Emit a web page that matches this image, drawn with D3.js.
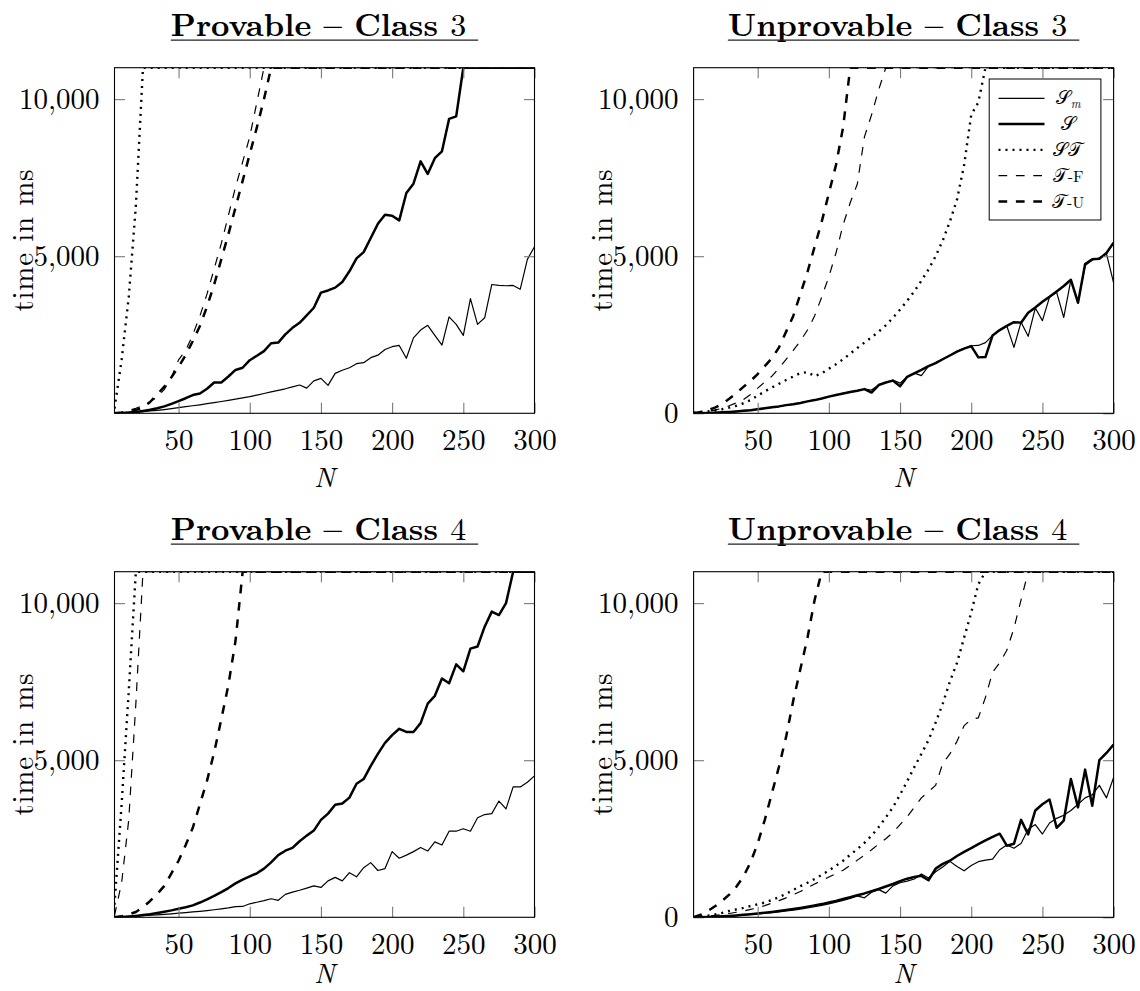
<!DOCTYPE html>
<html>
<head>
<meta charset="utf-8">
<script src="https://cdn.jsdelivr.net/npm/d3@7"></script>
<style>
  body { margin: 0; background: #fff; }
  svg { display: block; }
</style>
</head>
<body>
<svg id="chart" width="1140" height="991"></svg>
<script>
// ---- data ----
const T = 11000; // timeout, drawn on the upper border

const N = [5, 10, 15, 20, 25, 30, 35, 40, 45, 50,
  55, 60, 65, 70, 75, 80, 85, 90, 95, 100,
  105, 110, 115, 120, 125, 130, 135, 140, 145, 150,
  155, 160, 165, 170, 175, 180, 185, 190, 195, 200,
  205, 210, 215, 220, 225, 230, 235, 240, 245, 250,
  255, 260, 265, 270, 275, 280, 285, 290, 295, 300];

const xTicks = [50, 100, 150, 200, 250, 300];
const yTicksLeft = [5000, 10000];
const yTicksRight = [0, 5000, 10000];

const titleWords = ["Provable", "Unprovable", "Provable", "Unprovable"];
const titleClass = ["3", "3", "4", "4"];

// legend labels: [calligraphic part, subscript, upright suffix]
const seriesLabels = [["𝒮", "m", ""], ["𝒮", "", ""], ["𝒮𝒯", "", ""], ["𝒯", "", "-F"], ["𝒯", "", "-U"]];

// Provable - Class 3
const p3Sm = [0, 10, 20, 35, 55, 75, 95, 120, 150, 180,
  210, 240, 270, 305, 340, 375, 410, 450, 490, 530,
  580, 630, 680, 730, 780, 840, 900, 800, 1030, 1110,
  890, 1270, 1370, 1450, 1580, 1610, 1770, 1850, 2030, 2120,
  2160, 1750, 2400, 2650, 2800, 2480, 2170, 3070, 2830, 2480,
  3650, 2830, 3040, 4100, 4070, 4060, 4070, 3950, 4900, 5300];
const p3S = [0, 10, 25, 45, 75, 110, 160, 220, 300, 390,
  480, 580, 630, 780, 980, 980, 1170, 1380, 1450, 1690,
  1830, 1980, 2230, 2250, 2510, 2720, 2880, 3120, 3360, 3840,
  3910, 4000, 4180, 4520, 4930, 5130, 5580, 6030, 6320, 6290,
  6140, 7010, 7310, 8020, 7620, 8120, 8340, 9370, 9450, T,
  T, T, T, T, T, T, T, T, T, T];
const p3ST = [150, 1700, 3700, 6600, T, T, T, T, T, T,
  T, T, T, T, T, T, T, T, T, T,
  T, T, T, T, T, T, T, T, T, T,
  T, T, T, T, T, T, T, T, T, T,
  T, T, T, T, T, T, T, T, T, T,
  T, T, T, T, T, T, T, T, T, T];
const p3TF = [10, 40, 90, 160, 250, 370, 520, 760, 1150, 1700,
  2000, 2500, 3100, 3800, 4600, 5400, 6300, 7200, 8000, 8800,
  9900, T, T, T, T, T, T, T, T, T,
  T, T, T, T, T, T, T, T, T, T,
  T, T, T, T, T, T, T, T, T, T,
  T, T, T, T, T, T, T, T, T, T];
const p3TU = [0, 20, 60, 110, 180, 360, 600, 850, 1150, 1480,
  1850, 2300, 2780, 3400, 4100, 4900, 5700, 6550, 7400, 8250,
  9100, 10000, T, T, T, T, T, T, T, T,
  T, T, T, T, T, T, T, T, T, T,
  T, T, T, T, T, T, T, T, T, T,
  T, T, T, T, T, T, T, T, T, T];

// Unprovable - Class 3
const u3Sm = [0, 5, 10, 20, 30, 45, 60, 80, 100, 130,
  160, 190, 220, 260, 290, 330, 380, 420, 470, 530,
  580, 630, 680, 720, 770, 740, 900, 980, 1060, 960,
  1160, 1280, 1200, 1500, 1610, 1730, 1850, 1970, 2070, 2150,
  2160, 2250, 2480, 2650, 2780, 2100, 2900, 2450, 3350, 2950,
  3700, 3850, 3050, 4250, 3520, 4700, 4880, 4950, 5080, 4150];
const u3S = [0, 5, 10, 20, 30, 45, 60, 80, 100, 130,
  160, 190, 220, 260, 290, 330, 380, 420, 470, 530,
  580, 630, 680, 720, 770, 660, 900, 980, 1040, 860,
  1160, 1270, 1380, 1500, 1600, 1720, 1840, 1960, 2060, 2140,
  1780, 1790, 2480, 2650, 2780, 2900, 2880, 3200, 3370, 3550,
  3710, 3880, 4050, 4250, 3520, 4750, 4900, 4920, 5100, 5430];
const u3ST = [20, 40, 60, 90, 130, 180, 240, 320, 420, 560,
  700, 820, 940, 1060, 1170, 1280, 1310, 1180, 1270, 1420,
  1560, 1720, 1900, 2080, 2250, 2420, 2600, 2800, 3040, 3300,
  3580, 3880, 4220, 4580, 5000, 5500, 6100, 6800, 7900, 9500,
  9900, T, T, T, T, T, T, T, T, T,
  T, T, T, T, T, T, T, T, T, T];
const u3TF = [10, 30, 60, 100, 160, 240, 330, 440, 600, 800,
  1000, 1180, 1440, 1720, 2000, 2300, 2650, 3100, 3700, 4350,
  5100, 6000, 6700, 7300, 8800, 9500, 10300, T, T, T,
  T, T, T, T, T, T, T, T, T, T,
  T, T, T, T, T, T, T, T, T, T,
  T, T, T, T, T, T, T, T, T, T];
const u3TU = [0, 40, 100, 180, 300, 460, 640, 840, 1030, 1250,
  1500, 1750, 2100, 2600, 3100, 3800, 4500, 5300, 6100, 7000,
  7900, 9100, T, T, T, T, T, T, T, T,
  T, T, T, T, T, T, T, T, T, T,
  T, T, T, T, T, T, T, T, T, T,
  T, T, T, T, T, T, T, T, T, T];

// Provable - Class 4
const p4Sm = [0, 10, 20, 35, 50, 65, 80, 95, 110, 130,
  150, 170, 190, 215, 240, 270, 300, 340, 345, 430,
  480, 530, 590, 540, 730, 800, 860, 930, 1000, 950,
  1160, 1270, 1160, 1420, 1290, 1580, 1740, 1490, 1550, 2090,
  1880, 1980, 2090, 2220, 2110, 2400, 2300, 2740, 2740, 2820,
  2740, 3170, 3270, 3300, 3700, 3450, 4150, 4150, 4300, 4500];
const p4S = [0, 10, 25, 45, 70, 100, 140, 180, 220, 270,
  320, 380, 470, 570, 680, 800, 930, 1080, 1200, 1300,
  1400, 1550, 1750, 1980, 2120, 2210, 2420, 2600, 2760, 3100,
  3300, 3580, 3620, 3810, 4250, 4400, 4820, 5200, 5550, 5800,
  6000, 5900, 5900, 6180, 6800, 7050, 7600, 7450, 8050, 7830,
  8550, 8620, 9250, 9730, 9620, 10000, T, T, T, T];
const p4ST = [400, 3600, 7200, T, T, T, T, T, T, T,
  T, T, T, T, T, T, T, T, T, T,
  T, T, T, T, T, T, T, T, T, T,
  T, T, T, T, T, T, T, T, T, T,
  T, T, T, T, T, T, T, T, T, T,
  T, T, T, T, T, T, T, T, T, T];
const p4TF = [50, 1100, 3100, 6800, T, T, T, T, T, T,
  T, T, T, T, T, T, T, T, T, T,
  T, T, T, T, T, T, T, T, T, T,
  T, T, T, T, T, T, T, T, T, T,
  T, T, T, T, T, T, T, T, T, T,
  T, T, T, T, T, T, T, T, T, T];
const p4TU = [0, 30, 90, 170, 320, 520, 740, 1000, 1400, 1800,
  2300, 2850, 3600, 4350, 5250, 6300, 7400, 8800, T, T,
  T, T, T, T, T, T, T, T, T, T,
  T, T, T, T, T, T, T, T, T, T,
  T, T, T, T, T, T, T, T, T, T,
  T, T, T, T, T, T, T, T, T, T];

// Unprovable - Class 4
const u4Sm = [0, 5, 10, 20, 30, 40, 55, 70, 90, 110,
  130, 150, 175, 200, 230, 260, 300, 340, 380, 430,
  480, 540, 600, 680, 620, 800, 880, 770, 1000, 1100,
  1150, 1220, 1380, 1250, 1450, 1600, 1780, 1620, 1480, 1650,
  1770, 1820, 1850, 2150, 2300, 2200, 2350, 2800, 2950, 2650,
  3000, 3150, 3250, 3400, 3600, 3800, 3900, 4200, 3800, 4450];
const u4S = [0, 5, 10, 20, 30, 45, 60, 80, 100, 120,
  145, 170, 200, 230, 265, 300, 340, 380, 420, 470,
  520, 580, 640, 700, 760, 830, 900, 980, 1060, 1150,
  1230, 1280, 1320, 1180, 1550, 1700, 1800, 1950, 2080, 2200,
  2330, 2450, 2560, 2660, 2280, 2340, 3100, 2640, 3400, 3600,
  3750, 2850, 3080, 4400, 3500, 4700, 3550, 5000, 5230, 5500];
const u4ST = [0, 20, 50, 90, 140, 200, 250, 300, 360, 410,
  470, 550, 640, 750, 870, 990, 1100, 1220, 1350, 1490,
  1640, 1800, 1990, 2170, 2370, 2600, 2870, 3180, 3500, 3900,
  4330, 4780, 5200, 5640, 6200, 6800, 7500, 8100, 8900, 9700,
  10600, T, T, T, T, T, T, T, T, T,
  T, T, T, T, T, T, T, T, T, T];
const u4TF = [0, 15, 35, 60, 90, 120, 160, 200, 250, 300,
  370, 450, 530, 620, 720, 820, 940, 1060, 1170, 1280,
  1390, 1500, 1650, 1820, 1980, 2150, 2330, 2500, 2700, 2950,
  3200, 3500, 3800, 4000, 4200, 4900, 5200, 5600, 6100, 6300,
  6350, 7000, 7800, 8100, 8500, 9200, 10100, T, T, T,
  T, T, T, T, T, T, T, T, T, T];
const u4TU = [0, 80, 200, 350, 520, 720, 970, 1300, 1750, 2350,
  3100, 3950, 4800, 5750, 6900, 7900, 8900, 10100, T, T,
  T, T, T, T, T, T, T, T, T, T,
  T, T, T, T, T, T, T, T, T, T,
  T, T, T, T, T, T, T, T, T, T,
  T, T, T, T, T, T, T, T, T, T];

const panelSeries = [
  [p3Sm, p3S, p3ST, p3TF, p3TU],
  [u3Sm, u3S, u3ST, u3TF, u3TU],
  [p4Sm, p4S, p4ST, p4TF, p4TU],
  [u4Sm, u4S, u4ST, u4TF, u4TU]
];

// ---- layout / style ----
const plotW = 420, plotH = 345.6;
const lefts = [114.5, 693.6];
const tops = [67.7, 571.7];
const nLabelGap = [73.5, 65.5];   // baseline of "N" below the frame, per row
const serif = "'Latin Modern Roman', 'Liberation Serif', 'DejaVu Serif', serif";

const lineStyles = [
  { w: 1.2, dash: null },        // S_m   thin solid
  { w: 2.5, dash: null },        // S     thick solid
  { w: 2.4, dash: "2,5" },       // ST    dotted
  { w: 1.2, dash: "8.7,8.7" },   // T-F   thin dashed
  { w: 2.5, dash: "8.7,8.7" }    // T-U   thick dashed
];

const svg = d3.select("#chart");
const fmt = d3.format(",");

panelSeries.forEach(function(series, p) {
  const col = p % 2, row = Math.floor(p / 2);
  const L = lefts[col], Tp = tops[row], R = L + plotW, B = Tp + plotH;

  const x = d3.scaleLinear().domain([5, 300]).range([L, R]);
  const y = d3.scaleLinear().domain([0, 11000]).range([B, Tp]);

  const g = svg.append("g");

  /// clip for the curves
  const clipId = "clip" + p;
  svg.append("clipPath").attr("id", clipId)
    .append("rect").attr("x", L).attr("y", Tp).attr("width", plotW).attr("height", plotH);

  const line = d3.line()
    .x((d, i) => x(N[i]))
    .y(d => y(d));

  const lines = g.append("g").attr("clip-path", "url(#" + clipId + ")");
  series.forEach(function(vals, s) {
    const st = lineStyles[s];
    lines.append("path")
      .datum(vals)
      .attr("d", line)
      .attr("fill", "none")
      .attr("stroke", "#000")
      .attr("stroke-width", st.w)
      .attr("stroke-linejoin", "round")
      .attr("stroke-dasharray", st.dash);
  });

  /// axes: ticks inside on all four sides
  const yTicks = col === 0 ? yTicksLeft : yTicksRight;
  const tickLen = 10.5;

  const ax = [
    g.append("g").attr("transform", "translate(0," + B + ")")
      .call(d3.axisBottom(x).tickValues(xTicks).tickSize(-tickLen).tickPadding(16).tickFormat(d3.format("d"))),
    g.append("g").attr("transform", "translate(0," + Tp + ")")
      .call(d3.axisTop(x).tickValues(xTicks).tickSize(-tickLen).tickFormat("")),
    g.append("g").attr("transform", "translate(" + L + ",0)")
      .call(d3.axisLeft(y).tickValues(yTicks).tickSize(-tickLen).tickPadding(15).tickFormat(fmt)),
    g.append("g").attr("transform", "translate(" + R + ",0)")
      .call(d3.axisRight(y).tickValues(yTicks).tickSize(-tickLen).tickFormat(""))
  ];
  ax.forEach(function(a) {
    a.select(".domain").remove();
    a.selectAll(".tick line").attr("stroke", "#7a7a7a").attr("stroke-width", 1.1);
    a.selectAll(".tick text")
      .attr("fill", "#000")
      .style("font-family", serif)
      .style("font-size", "29px");
  });

  /// frame
  g.append("rect")
    .attr("x", L).attr("y", Tp).attr("width", plotW).attr("height", plotH)
    .attr("fill", "none").attr("stroke", "#000").attr("stroke-width", 1.1);

  /// axis labels
  g.append("text")
    .attr("x", (L + R) / 2).attr("y", B + nLabelGap[row])
    .attr("text-anchor", "middle")
    .style("font-family", serif).style("font-size", "28px").style("font-style", "italic")
    .text("N");

  g.append("text")
    .attr("transform", "translate(" + (L - 81.5) + "," + ((Tp + B) / 2) + ") rotate(-90)")
    .attr("text-anchor", "middle")
    .attr("textLength", 142).attr("lengthAdjust", "spacing")
    .style("font-family", serif).style("font-size", "29px")
    .text("time in ms");

  /// underlined title
  const tg = g.append("g");
  const tt = tg.append("text")
    .attr("y", Tp - 32)
    .style("font-family", serif).style("font-size", "32px");
  tt.append("tspan").style("font-weight", "bold").text(titleWords[p] + " – Class ");
  tt.append("tspan").text(titleClass[p]);
  const tw = tt.node().getComputedTextLength();
  const uw = tw + 12;
  const tx = (L + R) / 2 - uw / 2;
  tt.attr("x", tx);
  tg.append("line")
    .attr("x1", tx).attr("x2", tx + uw)
    .attr("y1", Tp - 27.5).attr("y2", Tp - 27.5)
    .attr("stroke", "#222").attr("stroke-width", 1.3);

  /// legend (upper right panel only)
  if (p === 1) {
    const lx = R - 124.4, ly = Tp + 11.3;
    const lg = g.append("g");
    lg.append("rect")
      .attr("x", lx).attr("y", ly).attr("width", 111.7).attr("height", 141)
      .attr("fill", "#fff").attr("stroke", "#000").attr("stroke-width", 1);
    seriesLabels.forEach(function(lab, s) {
      const st = lineStyles[s];
      const ry = ly + 19.3 + s * 25.8;
      lg.append("line")
        .attr("x1", lx + 9.3).attr("x2", lx + 55.3)
        .attr("y1", ry).attr("y2", ry)
        .attr("stroke", "#000").attr("stroke-width", st.w)
        .attr("stroke-dasharray", st.dash);
      const t = lg.append("text")
        .attr("x", lx + 79).attr("y", ry + 6)
        .attr("text-anchor", "middle")
        .style("font-family", serif).style("font-size", "19px");
      t.append("tspan").text(lab[0]);
      if (lab[1]) {
        t.append("tspan").attr("dy", 4).style("font-size", "12px").style("font-style", "italic").text(lab[1]);
      }
      if (lab[2]) {
        t.append("tspan").style("font-size", "16px").text(lab[2]);
      }
    });
  }
});
</script>
</body>
</html>
